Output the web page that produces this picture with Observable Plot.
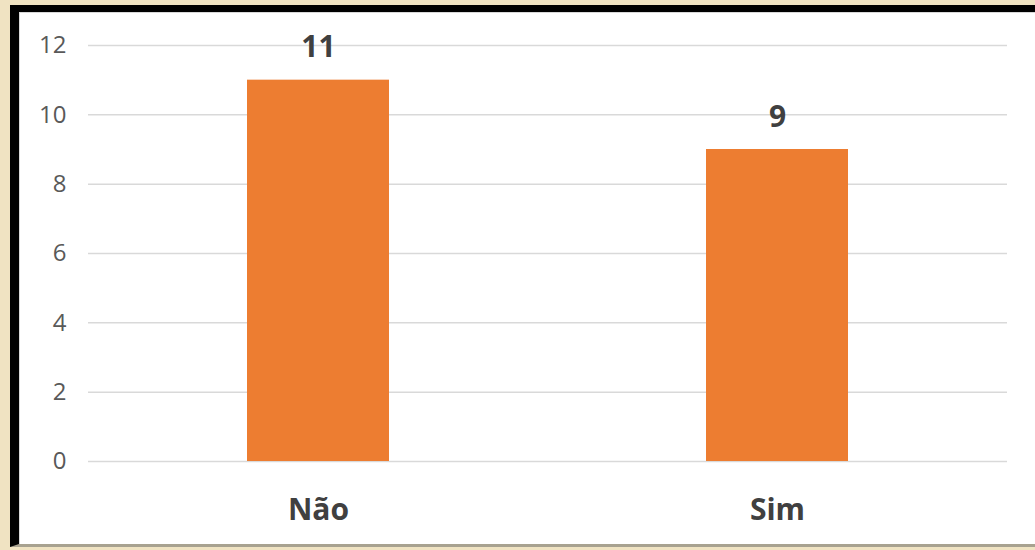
<!DOCTYPE html>
<html>
<head>
<meta charset="utf-8">
<script src="https://cdn.jsdelivr.net/npm/d3@7"></script>
<script src="https://cdn.jsdelivr.net/npm/@observablehq/plot@0.6"></script>
<style>
  html, body { margin: 0; padding: 0; background: #f0e3c2; width: 1035px; height: 550px; overflow: hidden; }
  #frame {
    position: absolute; left: 10px; top: 5px; width: 1100px; height: 542px;
    box-sizing: border-box; background: #ffffff;
    border-left: 9px solid #000; border-top: 7px solid #000; border-bottom: 3px solid #a8a290;
    box-shadow: inset 1px 1px 0 #d8d8d8;
  }
  #chart { position: absolute; left: 0; top: 0; }
</style>
</head>
<body>
<div id="frame"></div>
<div id="chart"></div>
<script>
const categories = ["Não", "Sim"];
const values = [11, 9];
const yTicks = [0, 2, 4, 6, 8, 10, 12];

const data = categories.map((c, i) => ({category: c, value: values[i]}));

const chart = Plot.plot({
  width: 1035,
  height: 550,
  marginLeft: 88,
  marginRight: 28,
  marginTop: 45,
  marginBottom: 89,
  style: {background: "transparent", fontFamily: "'Open Sans', sans-serif"},
  x: {domain: categories, paddingInner: 0.691, paddingOuter: 0.3455, label: null},
  y: {domain: [0, 12], ticks: yTicks, label: null},
  marks: [
    Plot.gridY(yTicks, {stroke: "#d9d9d9", strokeOpacity: 1, strokeWidth: 1.5}),
    Plot.barY(data, {x: "category", y: "value", fill: "#ed7d31"}),
    Plot.text(data, {x: "category", y: "value", text: d => String(d.value), dy: -32.5, lineAnchor: "middle",
      fontSize: 30, fontWeight: "bold", fill: "#404040"}),
    Plot.axisY(yTicks, {tickSize: 0, tickPadding: 22, fontSize: 24, fill: "#595959", label: null}),
    Plot.axisX({tickSize: 0, tickPadding: 37, fontSize: 30, fontWeight: "bold", fill: "#404040", label: null})
  ]
});
document.getElementById("chart").appendChild(chart);
</script>
</body>
</html>
